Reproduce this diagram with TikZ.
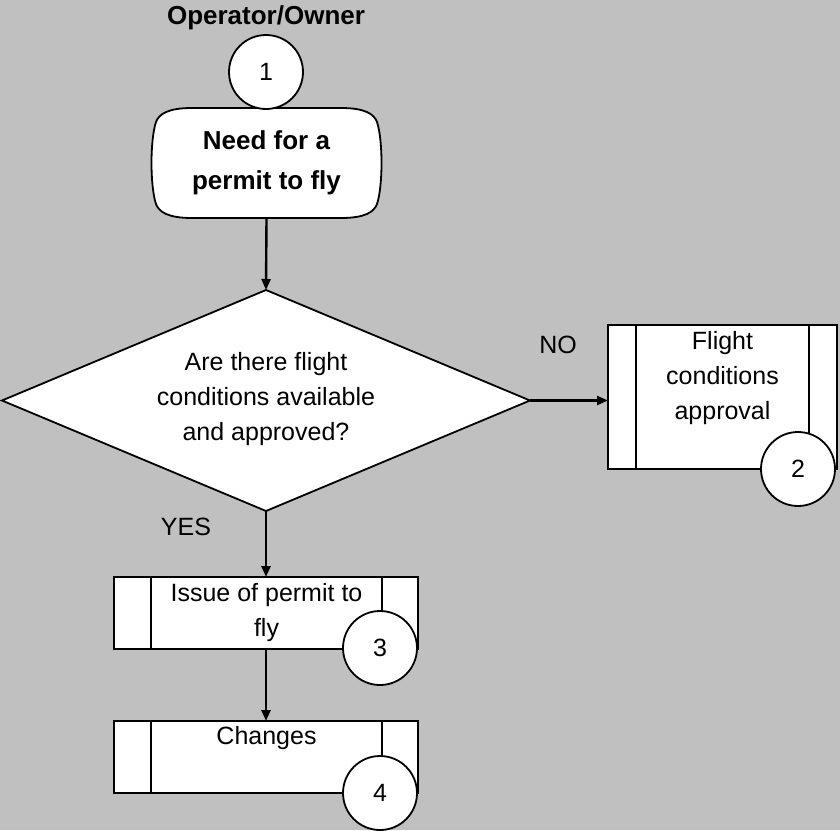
\documentclass[tikz,border=0pt]{standalone}
\usepackage{fontspec}
\setmainfont{Liberation Sans}
\usetikzlibrary{arrows.meta, shapes.geometric}
\definecolor{bggray}{RGB}{192,192,192}
\begin{document}
\begin{tikzpicture}[x=1pt,y=-1pt,
  every node/.style={inner sep=0pt, outer sep=0pt},
  txt/.style={font=\fontsize{25}{35}\selectfont, align=center},
  btxt/.style={font=\bfseries\fontsize{26}{40}\selectfont, align=center},
  shp/.style={draw=black, fill=white, line width=1.8pt},
  inner/.style={line width=1.8pt},
  conn/.style={line width=2.4pt, -{Triangle[length=11pt,width=9pt]}},
  num/.style={shp, circle, minimum size=74pt, font=\fontsize{25}{30}\selectfont},
  pbox/.style={shp, rectangle}
]
\useasboundingbox[fill=bggray] (0,0) rectangle (840,830);

% title
\node[btxt] (title) at (266,18) {Operator/Owner};

% terminal (flattened-arc ends)
\filldraw[shp] (192,108) -- (341,108)
  .. controls (365,108) and (374,114) .. (377,122)
  .. controls (383,140) and (383,186) .. (377,204)
  .. controls (374,212) and (365,218) .. (341,218)
  -- (192,218)
  .. controls (168,218) and (159,212) .. (156,204)
  .. controls (150,186) and (150,140) .. (156,122)
  .. controls (159,114) and (168,108) .. (192,108) -- cycle;
\node[btxt, minimum width=228pt, minimum height=110pt] (term) at (266.5,163) {Need for a\\permit to fly};
\node[num] (c1) at (266,72) {1};

% decision
\node[shp, diamond, aspect=2.39, minimum width=528pt, minimum height=221pt] (dia) at (266,400.5) {};
\node[txt] (diat) at (266,399) {Are there flight\\conditions available\\and approved?};

% box 2
\node[pbox, minimum width=229pt, minimum height=144pt] (p2) at (722.5,397) {};
\draw[inner] ([xshift=28pt]p2.north west) -- ([xshift=28pt]p2.south west);
\draw[inner] ([xshift=-28pt]p2.north east) -- ([xshift=-28pt]p2.south east);
\node[txt] (p2t) at (722.5,378) {Flight\\conditions\\approval};
\node[num] (c2) at (798,469) {2};

% box 3
\node[pbox, minimum width=304pt, minimum height=72pt] (p3) at (266,613) {};
\draw[inner] ([xshift=37pt]p3.north west) -- ([xshift=37pt]p3.south west);
\draw[inner] ([xshift=-36pt]p3.north east) -- ([xshift=-36pt]p3.south east);
\node[txt] (p3t) at (266.5,613) {Issue of permit to\\fly};
\node[num] (c3) at (380,648) {3};

% box 4
\node[pbox, minimum width=304pt, minimum height=72pt] (p4) at (266,757) {};
\draw[inner] ([xshift=37pt]p4.north west) -- ([xshift=37pt]p4.south west);
\draw[inner] ([xshift=-36pt]p4.north east) -- ([xshift=-36pt]p4.south east);
\node[txt] (p4t) at (266.5,738) {Changes};
\node[num] (c4) at (380,793) {4};

% labels
\node[txt] (no) at (558,345) {NO};
\node[txt] (yes) at (186,527) {YES};

% connectors
\draw[conn] (term.south) -- (dia.north);
\draw[conn] (dia.east) -- (dia.east -| p2.west);
\draw[conn] (dia.south) -- (p3.north);
\draw[conn] (p3.south) -- (p4.north);
\end{tikzpicture}
\end{document}
